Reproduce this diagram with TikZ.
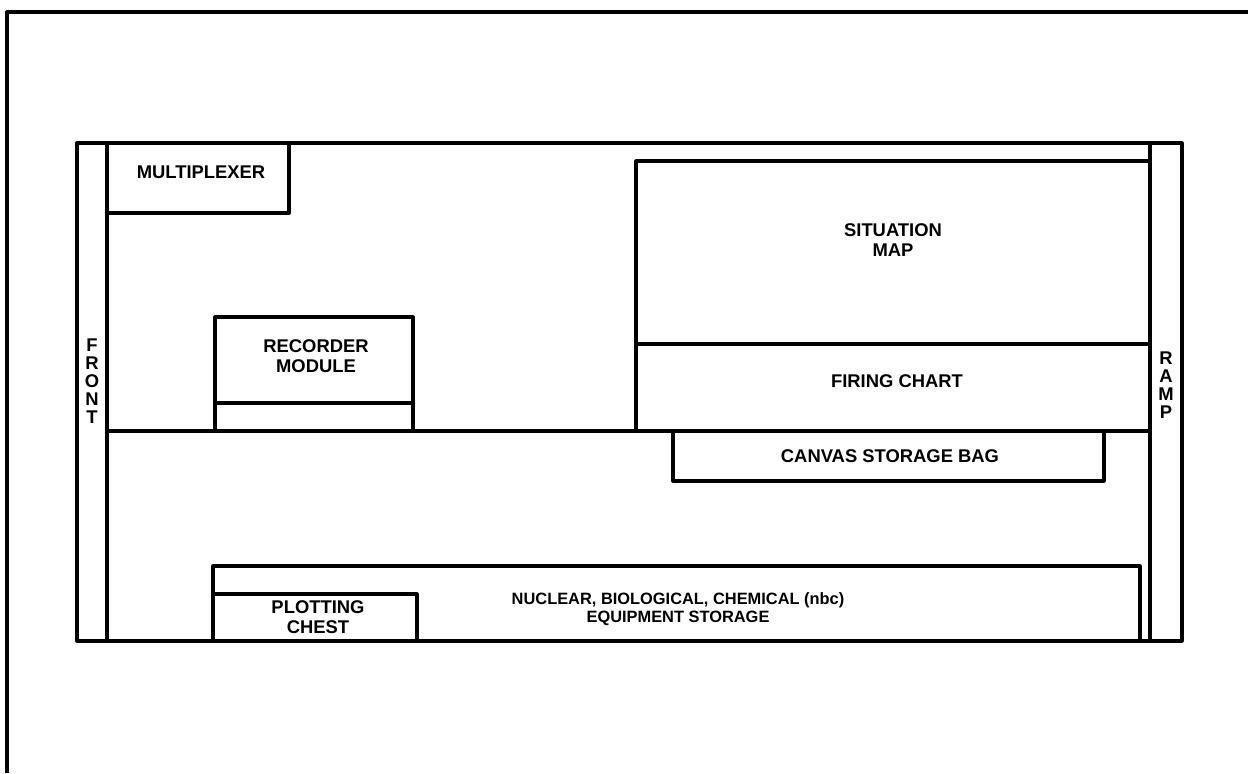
\documentclass[tikz,border=0pt]{standalone}
\usepackage{fontspec}
\setmainfont{Liberation Sans}
\begin{document}
\begin{tikzpicture}[x=0.5pt,y=-0.5pt,
  wall/.style={line width=1.6pt,line join=round},
  lbl/.style={font=\fontsize{9.2}{10}\selectfont\bfseries,align=center,inner sep=0pt},
  smalllbl/.style={font=\fontsize{8.2}{9}\selectfont\bfseries,align=center,inner sep=0pt},
  vlbl/.style={font=\fontsize{9.2}{9}\selectfont\bfseries,align=center,inner sep=0pt}]
\useasboundingbox (0,0) rectangle (1248,773);
% outer frame
\draw[wall] (7,773) -- (7,12) -- (1248,12);
% vehicle outline
\draw[wall] (77,143) rectangle (1182,641);
\draw[wall] (107,143) -- (107,641);
\draw[wall] (1150,143) -- (1150,641);
\draw[wall] (107,431) -- (1150,431);
% multiplexer
\draw[wall] (107,213) -- (289,213) -- (289,143);
\node[lbl] (mux) at (201,172) {MULTIPLEXER};
% recorder module
\draw[wall] (215,431) -- (215,317) -- (413,317) -- (413,431);
\draw[wall] (215,403) -- (413,403);
\node[lbl] (rec) at (316,356) {RECORDER\\MODULE};
% situation map & firing chart
\draw[wall] (636,431) -- (636,161) -- (1150,161);
\draw[wall] (636,344) -- (1150,344);
\node[lbl] (sit) at (893,240) {SITUATION\\MAP};
\node[lbl] (fire) at (897,381) {FIRING CHART};
% canvas storage bag
\draw[wall] (673,431) -- (673,481) -- (1104,481) -- (1104,431);
\node[lbl] (bag) at (890,456) {CANVAS STORAGE BAG};
% nbc storage
\draw[wall] (213,641) -- (213,566) -- (1140,566) -- (1140,641);
\node[smalllbl] (nbc) at (678,609) {NUCLEAR, BIOLOGICAL, CHEMICAL (nbc)\\EQUIPMENT STORAGE};
% plotting chest
\draw[wall] (213,594) -- (417,594) -- (417,641);
\node[lbl] (plot) at (318,617) {PLOTTING\\CHEST};
% side labels
\node[vlbl] (front) at (92,381) {F\\R\\O\\N\\T};
\node[vlbl] (ramp) at (1166,385) {R\\A\\M\\P};
\end{tikzpicture}
\end{document}
